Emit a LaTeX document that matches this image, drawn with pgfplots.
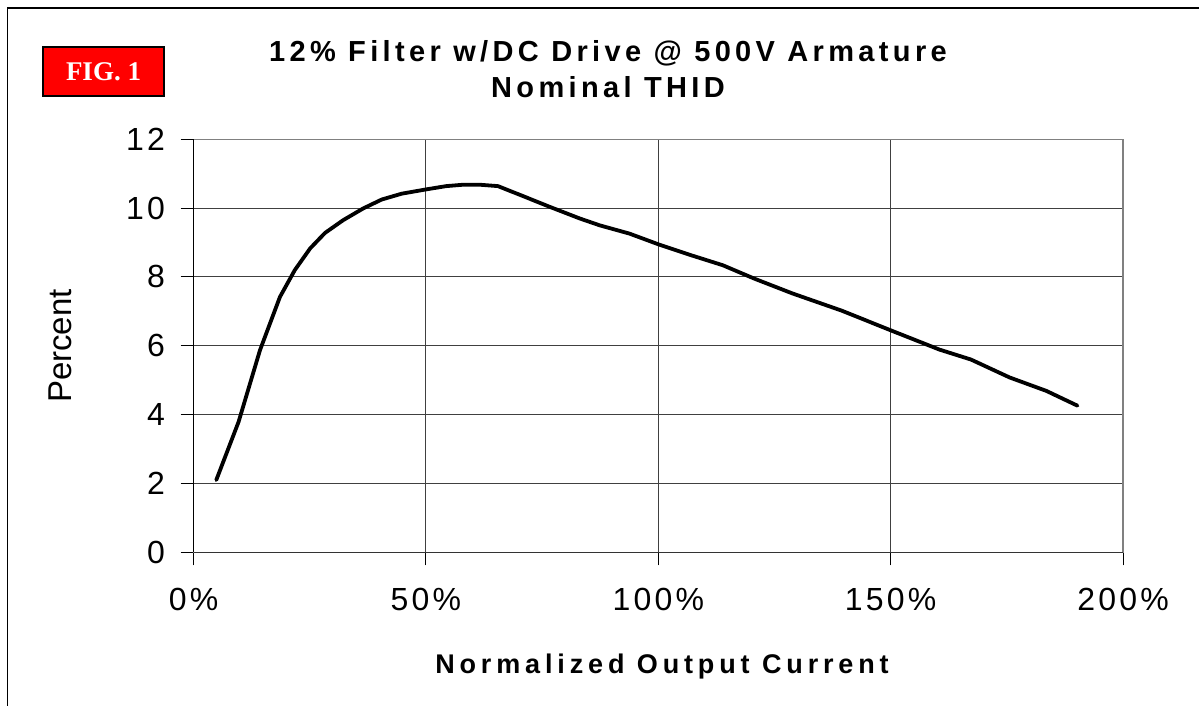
\documentclass[border=0pt]{standalone}
\usepackage{fontspec}
\setmainfont{Liberation Sans}
\newfontfamily\spacedfont[LetterSpace=10]{Liberation Sans}
\newfontfamily\titlefont[LetterSpace=15]{Liberation Sans}
\newfontfamily\labelfont[LetterSpace=18]{Liberation Sans}
\newfontfamily\figfont{Liberation Serif}
\usepackage{pgfplots}
\pgfplotsset{compat=1.18}

\pgfplotstableread{
x y
4.9 2.10
9.7 3.79
14.3 5.87
18.6 7.42
21.8 8.20
25.1 8.83
28.3 9.28
32.2 9.65
36.5 9.99
40.5 10.25
44.8 10.42
50.3 10.55
54.4 10.64
58.0 10.68
61.6 10.68
65.5 10.64
70.9 10.35
76.6 10.04
83.1 9.70
87.4 9.50
93.8 9.26
100.0 8.95
107.1 8.63
113.9 8.34
120.7 7.95
128.9 7.52
139.5 7.02
150.2 6.44
160.5 5.89
167.3 5.60
175.6 5.08
183.5 4.69
190.2 4.26
}\thidtable

\begin{document}
\begin{tikzpicture}[x=1pt,y=1pt]
\useasboundingbox (0,0) rectangle (1199,705);
\fill[white] (0,0) rectangle (1199,705);
\draw[black, line width=1.5pt] (7.5,-5) -- (7.5,697) -- (1210,697);
\filldraw[fill=red, draw=black, line width=1.5pt] (43,705-47) rectangle (164,705-96);
\node[text=white, font=\figfont\bfseries\fontsize{27}{30}\selectfont] at (103.5,705-71.5) {FIG. 1};
\node[anchor=base, font=\titlefont\bfseries\fontsize{29}{34}\selectfont] at (608,705-62) {12\% Filter w/DC Drive @ 500V Armature};
\node[anchor=base, font=\titlefont\bfseries\fontsize{29}{34}\selectfont] at (608,705-98) {Nominal THID};
\node[anchor=base, font=\labelfont\bfseries\fontsize{27}{30}\selectfont] at (662,705-673) {Normalized Output Current};
\node[rotate=90, font=\fontsize{33}{38}\selectfont] at (60,705-346) {Percent};
\begin{axis}[
  at={(193.5pt,152.7pt)}, anchor=south west,
  scale only axis, width=929.5pt, height=413pt,
  xmin=0, xmax=200, ymin=0, ymax=12,
  xtick={0,50,100,150,200},
  ytick={0,2,4,6,8,10,12},
  xticklabels={0\%,50\%,100\%,150\%,200\%},
  yticklabels={0,2,4,6,8,10,12},
  tick pos=left,
  tick align=outside,
  major tick length=13pt,
  tick style={black, line width=1pt},
  xticklabel style={font=\spacedfont\fontsize{32}{36}\selectfont, yshift=-19pt},
  yticklabel style={font=\spacedfont\fontsize{32}{36}\selectfont, xshift=-12pt},
  grid=major,
  major grid style={black!75, line width=1pt},
  axis line style={draw=black!50, line width=1.5pt},
  clip=false,
]
\draw[black, line width=1.2pt] (rel axis cs:0,0) -- (rel axis cs:0,1);
\draw[black!80, line width=1.5pt] (rel axis cs:0,0) -- (rel axis cs:1,0);
\addplot[black, line width=3.8pt, line join=round, line cap=round] table[x=x,y=y] {\thidtable};
\end{axis}
\end{tikzpicture}
\end{document}
